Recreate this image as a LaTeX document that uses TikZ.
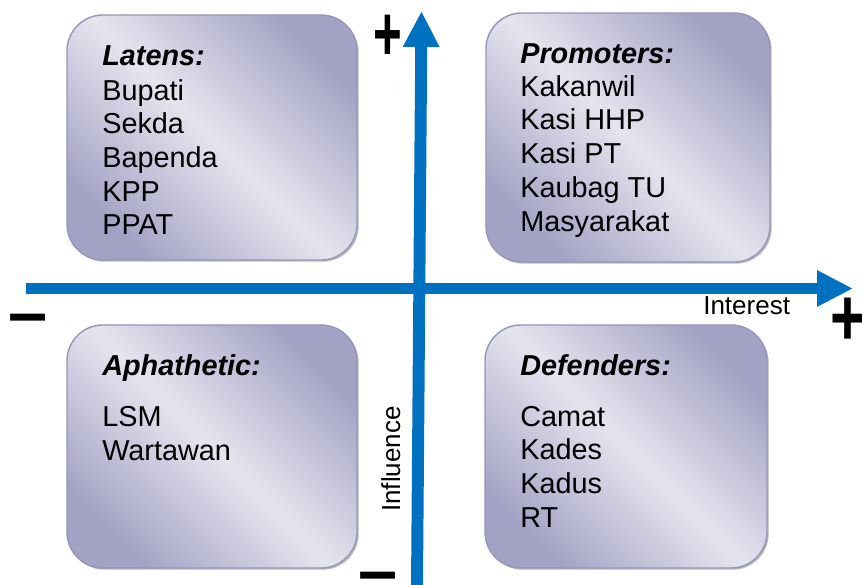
\documentclass[tikz,border=0pt]{standalone}
\usepackage{fontspec}
\setmainfont{Liberation Sans}
\usetikzlibrary{arrows.meta,shadows}

\definecolor{axisblue}{RGB}{0,112,192}
\definecolor{boxdark}{RGB}{164,162,196}
\definecolor{boxlight}{RGB}{229,229,239}
\definecolor{boxline}{RGB}{152,149,188}

\tikzset{
  quadbox/.style={rectangle, rounded corners=0.9cm, draw=boxline, line width=1pt,
    top color=boxdark, bottom color=boxdark, middle color=boxlight, shading angle=-45,
    drop shadow={shadow xshift=1.2pt, shadow yshift=-1.2pt, fill=black!45, opacity=0.6},
    inner sep=0pt},
  heading/.style={anchor=base west, inner sep=0pt, font=\fontsize{20.5}{24}\selectfont\bfseries\itshape},
  entry/.style={anchor=base west, inner sep=0pt, font=\fontsize{20.5}{24}\selectfont},
  axis/.style={draw=axisblue, line width=8.5pt, -{Triangle[length=25.6pt,width=24.2pt]}},
  axislabel/.style={anchor=base west, inner sep=0pt, font=\fontsize{18.5}{22}\selectfont},
  sign/.style={inner sep=0pt, font=\fontsize{50}{50}\selectfont\bfseries}
}

\begin{document}
\begin{tikzpicture}[x=0.025cm, y=-0.025cm]
    \useasboundingbox (0,0) rectangle (862,585);

    \node[quadbox, minimum width=7.25cm, minimum height=6.125cm] (latentbox) at (212,137.5) {};
    \node[quadbox, minimum width=7.1cm, minimum height=6.225cm] (promotorbox) at (628,137.5) {};
    \node[quadbox, minimum width=7.25cm, minimum height=6.075cm] (apathybox) at (212,446.5) {};
    \node[quadbox, minimum width=7.05cm, minimum height=6.075cm] (defenderbox) at (626,446.5) {};

    \node[heading] (latens) at (102,65) {Latens:};
    \foreach \name [count=\i] in {Bupati,Sekda,Bapenda,KPP,PPAT}
        \node[entry] (latens\i) at (102,{100+33.7*(\i-1)}) {\name};

    \node[heading] (promoters) at (520,63) {Promoters:};
    \foreach \name [count=\i] in {Kakanwil,Kasi HHP,Kasi PT,Kaubag TU,Masyarakat}
        \node[entry] (promoters\i) at (520,{96+33.75*(\i-1)}) {\name};

    \node[heading] (aphathetic) at (102,375) {Aphathetic:};
    \foreach \name [count=\i] in {LSM,Wartawan}
        \node[entry] (aphathetic\i) at (102,{426.5+33.5*(\i-1)}) {\name};

    \node[heading] (defenders) at (520,375) {Defenders:};
    \foreach \name [count=\i] in {Camat,Kades,Kadus,RT}
        \node[entry] (defenders\i) at (520,{426+33.7*(\i-1)}) {\name};

    \coordinate (xfrom) at (26,288.5);
    \coordinate (xto) at (853,288.5);
    \coordinate (yfrom) at (417,585);
    \coordinate (yto) at (421.5,11);
    \draw[axis] (xfrom) -- (xto);
    \draw[axis] (yfrom) -- (yto);

    \node[axislabel] (interest) at (703,314) {Interest};
    \node[axislabel, rotate=90] (influence) at (400,512) {Influence};

    \node[sign] (plustop) at (387.5,38) {\scalebox{0.7}[1.1]{+}};
    \node[sign] (plusright) at (847.5,322) {\scalebox{0.85}[1.15]{+}};
    \node[sign] (minusleft) at (28.5,315.5) {\raisebox{-0.243em}[0.114em][0pt]{–}};
    \node[sign] (minusbottom) at (378.5,573) {\raisebox{-0.243em}[0.114em][0pt]{–}};
\end{tikzpicture}
\end{document}
